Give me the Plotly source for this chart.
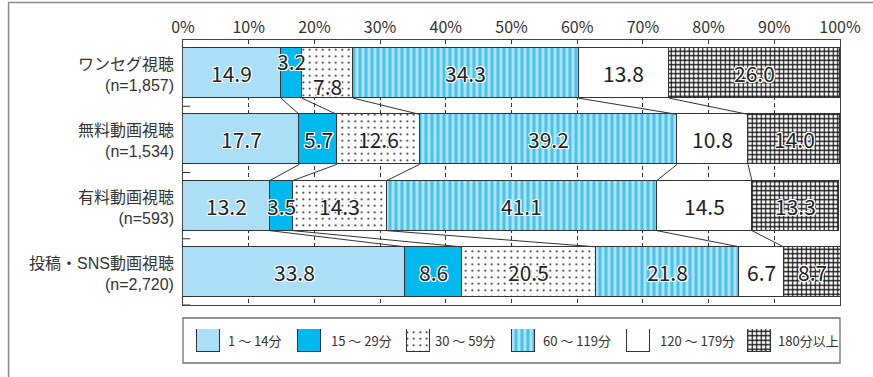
import plotly.graph_objects as go

# Viewing-time distribution (%) by type of video viewing
category_names = ["ワンセグ視聴", "無料動画視聴", "有料動画視聴", "投稿・SNS動画視聴"]
sample_sizes = ["(n=1,857)", "(n=1,534)", "(n=593)", "(n=2,720)"]
series_names = ["1 ～ 14分", "15 ～ 29分", "30 ～ 59分", "60 ～ 119分", "120 ～ 179分", "180分以上"]
v_1_14 = [14.9, 17.7, 13.2, 33.8]
v_15_29 = [3.2, 5.7, 3.5, 8.6]
v_30_59 = [7.8, 12.6, 14.3, 20.5]
v_60_119 = [34.3, 39.2, 41.1, 21.8]
v_120_179 = [13.8, 10.8, 14.5, 6.7]
v_180_plus = [26.0, 14.0, 13.3, 8.7]
tick_values = [0, 10, 20, 30, 40, 50, 60, 70, 80, 90, 100]
tick_labels = ["0%", "10%", "20%", "30%", "40%", "50%", "60%", "70%", "80%", "90%", "100%"]

series_values = [v_1_14, v_15_29, v_30_59, v_60_119, v_120_179, v_180_plus]

EDGE = "#333333"
styles = [
    dict(color="#aadff7"),
    dict(color="#00b9ef"),
    dict(color="#ffffff", pattern=dict(shape=".", fgcolor="#111111", bgcolor="#ffffff",
                                      size=6.5, solidity=0.07, fillmode="replace")),
    dict(color="#aee3f9", pattern=dict(shape="|", fgcolor="#45c3ee", bgcolor="#aee3f9",
                                      size=6, solidity=0.5, fillmode="replace")),
    dict(color="#ffffff"),
    dict(color="#ffffff", pattern=dict(shape="+", fgcolor="#111111", bgcolor="#ffffff",
                                      size=4.5, solidity=0.45, fillmode="replace")),
]

JP = "Noto Sans CJK JP"
LBL = "Liberation Sans, Noto Sans CJK JP"
NUM = "Noto Sans CJK JP"
HALO = ("1px 1px 0 #fff, -1px -1px 0 #fff, 1px -1px 0 #fff, -1px 1px 0 #fff, "
        "0 1px 0 #fff, 1px 0 0 #fff, 0 -1px 0 #fff, -1px 0 0 #fff")

BAR_WIDTH = 0.755
fig = go.Figure()

ypos = list(range(len(category_names)))
for name, vals, st in zip(series_names, series_values, styles):
    fig.add_trace(go.Bar(
        y=ypos, x=vals, orientation="h", name=name, width=BAR_WIDTH,
        marker=dict(line=dict(color=EDGE, width=1), **st),
        showlegend=False, hoverinfo="skip",
    ))

# cumulative boundaries per row
cum = []
for i in range(len(category_names)):
    row, s = [0.0], 0.0
    for vals in series_values:
        s += vals[i]
        row.append(s)
    cum.append(row)

# value labels
label_shift = {(0, 1): (0, 12), (0, 2): (0, -13)}
annotations = []
for i in range(len(category_names)):
    for k, vals in enumerate(series_values):
        v = vals[i]
        dx, dy = label_shift.get((i, k), (0, 0))
        annotations.append(dict(
            x=cum[i][k] + v / 2, y=i, xref="x", yref="y", text=f"{v:.1f}",
            showarrow=False, xshift=dx, yshift=dy,
            font=dict(family=NUM, size=21, color="#222222", shadow=HALO),
        ))

# two-line category labels to the left of each bar
for i, (nm, n) in enumerate(zip(category_names, sample_sizes)):
    annotations.append(dict(
        x=0, y=i, xref="paper", yref="y", text=f"{nm}<br>{n}", showarrow=False,
        xanchor="right", align="right", xshift=-7, yshift=-2,
        font=dict(family=LBL, size=16, color="#333333"),
    ))

shapes = []
half = BAR_WIDTH / 2
# connector lines between consecutive rows
for i in range(len(category_names) - 1):
    for k in range(1, len(series_values)):
        shapes.append(dict(type="line", xref="x", yref="y",
                           x0=cum[i][k], y0=i + half, x1=cum[i + 1][k], y1=i + 1 - half,
                           line=dict(color=EDGE, width=1)))
# short ticks at category boundaries
for i in range(len(category_names)):
    shapes.append(dict(type="line", xref="x", yref="y", x0=0, x1=1.1,
                       y0=i + 0.5, y1=i + 0.5, line=dict(color=EDGE, width=1)))

# legend: swatches drawn as bars on a helper axis measured in pixels
PLOT_L, PLOT_R = 183, 844
swatch_left = [197.5, 299, 408, 514.5, 630, 751.5]
text_left = [226, 330, 435, 543, 661, 780]
SW = 23
for name, st, xl in zip(series_names, styles, swatch_left):
    fig.add_trace(go.Bar(
        y=[0], x=[SW], base=[xl], orientation="h", width=1,
        xaxis="x2", yaxis="y2", marker=dict(line=dict(color=EDGE, width=1), **st),
        showlegend=False, hoverinfo="skip",
    ))
for name, xt in zip(series_names, text_left):
    annotations.append(dict(x=xt, y=0, xref="x2", yref="y2", text=name, showarrow=False,
                            xanchor="left", font=dict(family=JP, size=13, color="#333333")))

# paper spans y = 40px (top) .. 363px (bottom)
TOP, BOT = 40, 363
PH = BOT - TOP
def py(p):
    return (BOT - p) / PH

shapes.append(dict(type="rect", xref="paper", yref="paper", x0=0, x1=1,
                   y0=py(363), y1=py(318), line=dict(color="#707070", width=1.3)))
# outer frame (top and left edges)
shapes.append(dict(type="rect", xref="paper", yref="paper",
                   x0=(7.5 - PLOT_L) / (PLOT_R - PLOT_L), x1=(900 - PLOT_L) / (PLOT_R - PLOT_L),
                   y0=py(400), y1=py(2.5), line=dict(color="#8a8a8a", width=1.5)))

fig.update_layout(
    width=873, height=377,
    margin=dict(l=PLOT_L, r=873 - PLOT_R, t=TOP, b=377 - BOT),
    paper_bgcolor="white", plot_bgcolor="white",
    barmode="stack", bargap=0,
    shapes=shapes, annotations=annotations,
    xaxis=dict(range=[0, 100], side="top", tickvals=tick_values, ticktext=tick_labels,
               showgrid=True, gridcolor="#333333", gridwidth=1, griddash="4px,3px",
               showline=True, mirror=True, linecolor="#444444", linewidth=1,
               ticks="", zeroline=False, fixedrange=True,
               tickfont=dict(family=JP, size=16, color="#333333")),
    yaxis=dict(domain=[py(305), 1], range=[len(category_names) - 0.5, -0.5],
               tickvals=ypos, showticklabels=False,
               showline=True, mirror=True, linecolor="#444444", linewidth=1,
               showgrid=False, zeroline=False, ticks="", fixedrange=True),
    xaxis2=dict(domain=[0, 1], range=[PLOT_L, PLOT_R], anchor="y2", visible=False,
                fixedrange=True),
    yaxis2=dict(domain=[py(352), py(329)], range=[-0.5, 0.5], anchor="x2", visible=False,
                fixedrange=True),
)

fig.write_html("out.html")
